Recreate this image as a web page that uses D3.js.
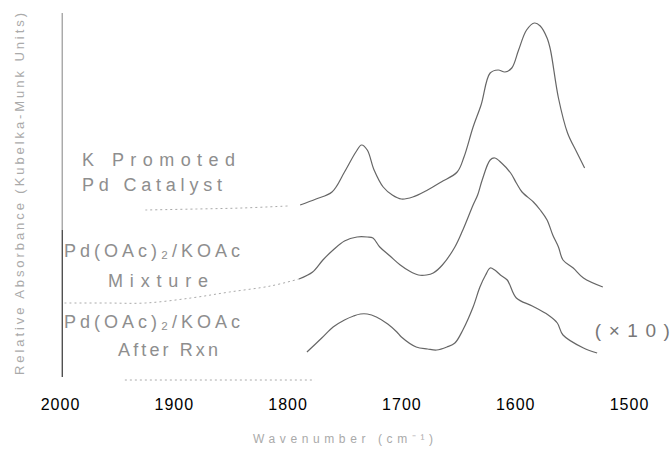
<!DOCTYPE html>
<html>
<head>
<meta charset="utf-8">
<script src="https://cdn.jsdelivr.net/npm/d3@7"></script>
<style>
  html, body { margin: 0; padding: 0; background: #fff; }
  svg { display: block; }
</style>
</head>
<body>
<svg id="chart" width="671" height="453"></svg>
<script>
// Wavenumber axis ticks (cm-1), plotted high to low as usual for IR
const wavenumberTicks = [2000, 1900, 1800, 1700, 1600, 1500];

// Sample names, two lines each (top, middle, bottom spectrum)
const sampleNames = [
  ["K Promoted", "Pd Catalyst"],
  ["Pd(OAc)₂/KOAc", "Mixture"],
  ["Pd(OAc)₂/KOAc", "After Rxn"]
];

// K-promoted Pd catalyst spectrum
const kPromotedWavenumber = [1925, 1880, 1840, 1800, 1789, 1775, 1761, 1750, 1740, 1735, 1730, 1724, 1716, 1708, 1700, 1690, 1677, 1665, 1651, 1645, 1637, 1630, 1622, 1615, 1609, 1603, 1597, 1590, 1583, 1578, 1572, 1569, 1562, 1554, 1546, 1539];
const kPromotedAbsorbance = [0.00, 0.01, 0.02, 0.04, 0.05, 0.11, 0.18, 0.38, 0.58, 0.65, 0.60, 0.40, 0.23, 0.15, 0.11, 0.13, 0.20, 0.28, 0.38, 0.53, 0.83, 1.05, 1.37, 1.40, 1.38, 1.42, 1.60, 1.80, 1.87, 1.84, 1.72, 1.60, 1.12, 0.77, 0.58, 0.42];

// Pd(OAc)2/KOAc physical mixture spectrum
const mixtureWavenumber = [1996, 1960, 1925, 1885, 1851, 1815, 1790, 1778, 1769, 1760, 1750, 1739, 1730, 1725, 1719, 1710, 1701, 1693, 1685, 1678, 1672, 1664, 1653, 1646, 1637, 1633, 1629, 1622, 1618, 1612, 1604, 1599, 1594, 1584, 1578, 1572, 1567, 1562, 1558, 1549, 1540, 1523];
const mixtureAbsorbance = [0.00, 0.00, 0.00, 0.05, 0.11, 0.17, 0.24, 0.31, 0.43, 0.53, 0.62, 0.66, 0.66, 0.65, 0.56, 0.47, 0.38, 0.32, 0.28, 0.28, 0.30, 0.38, 0.56, 0.73, 0.98, 1.08, 1.23, 1.43, 1.45, 1.40, 1.30, 1.20, 1.11, 1.01, 0.93, 0.83, 0.68, 0.56, 0.43, 0.35, 0.25, 0.16];

// Pd(OAc)2/KOAc after reaction, magnified ten times
const afterRxnWavenumber = [1800, 1783, 1770, 1760, 1750, 1742, 1736, 1730, 1722, 1712, 1704, 1700, 1687, 1677, 1669, 1660, 1653, 1646, 1637, 1631, 1626, 1622, 1618, 1613, 1607, 1599, 1585, 1571, 1563, 1558, 1540, 1528];
const afterRxnAbsorbance = [0.20, 0.28, 0.42, 0.53, 0.60, 0.64, 0.66, 0.66, 0.63, 0.56, 0.48, 0.43, 0.33, 0.31, 0.30, 0.33, 0.37, 0.50, 0.73, 0.93, 1.05, 1.12, 1.10, 1.05, 1.00, 0.82, 0.74, 0.65, 0.57, 0.45, 0.32, 0.27];

// Vertical stacking offsets (absorbance units) for the three traces
const spectrumOffsets = [1.70, 0.77, 0.00];
// Zero-line extent drawn under the bottom trace
const zeroLineRange = [1943, 1776];
const scaleNote = "(×10)";

const spectra = [
  { wn: kPromotedWavenumber, a: kPromotedAbsorbance },
  { wn: mixtureWavenumber, a: mixtureAbsorbance },
  { wn: afterRxnWavenumber, a: afterRxnAbsorbance }
];

const svg = d3.select("#chart");
const font = "'Liberation Sans', Arial, Helvetica, sans-serif";

const x = d3.scaleLinear().domain([2000, 1500]).range([60, 629]);
const y = d3.scaleLinear().domain([0, 3.67]).range([380, 13]);

// Left frame line
const axisX = x(1998);
svg.append("line")
  .attr("x1", axisX).attr("x2", axisX)
  .attr("y1", y(3.67)).attr("y2", 230)
  .attr("stroke", "#aaa").attr("stroke-width", 1.5);
svg.append("line")
  .attr("x1", axisX).attr("x2", axisX)
  .attr("y1", 230).attr("y2", 377)
  .attr("stroke", "#444").attr("stroke-width", 1.3);

// Bottom axis: tick labels only
const xAxis = svg.append("g")
  .attr("transform", "translate(0,396)")
  .call(d3.axisBottom(x).tickValues(wavenumberTicks).tickFormat(d3.format("d")).tickSize(0).tickPadding(3));
xAxis.select(".domain").remove();
xAxis.attr("font-family", font).attr("font-size", 16);
xAxis.selectAll("text").attr("fill", "#000").attr("letter-spacing", "1px");

// Dotted zero line of the bottom trace
svg.append("line")
  .attr("x1", x(zeroLineRange[0])).attr("x2", x(zeroLineRange[1]))
  .attr("y1", y(0)).attr("y2", y(0))
  .attr("stroke", "#aaa").attr("stroke-width", 1)
  .attr("stroke-dasharray", "2,3");

// Spectra: faint dotted tails at high wavenumber, solid elsewhere
const fadeAbove = 1790;
spectra.forEach((s, i) => {
  const off = spectrumOffsets[i];
  const pts = s.wn.map((w, k) => ({ wn: w, a: s.a[k] }));
  const line = d3.line()
    .x(d => x(d.wn))
    .y(d => y(d.a + off))
    .curve(d3.curveCatmullRom.alpha(0.5));
  const faint = pts.filter(d => d.wn >= fadeAbove);
  const main = pts.filter(d => d.wn <= fadeAbove);
  if (faint.length > 1) {
    svg.append("path").datum(faint)
      .attr("d", line).attr("fill", "none")
      .attr("stroke", "#aaa").attr("stroke-width", 1)
      .attr("stroke-dasharray", "2,3");
  }
  svg.append("path").datum(main.length > 1 ? main : pts)
    .attr("d", line).attr("fill", "none")
    .attr("stroke", "#666").attr("stroke-width", 1.2);
});

// Sample labels
const labelLayout = [
  [{ x: 82, y: 166, w: 153 }, { x: 82, y: 191, w: 140 }],
  [{ x: 64, y: 257, w: 176 }, { x: 108, y: 287, w: 100 }],
  [{ x: 64, y: 328, w: 176 }, { x: 118, y: 356, w: 100 }]
];
sampleNames.forEach((lines, i) => {
  lines.forEach((t, j) => {
    const p = labelLayout[i][j];
    svg.append("text")
      .attr("x", p.x).attr("y", p.y)
      .attr("textLength", p.w).attr("lengthAdjust", "spacing")
      .attr("font-family", font).attr("font-size", 18)
      .attr("fill", "#8e8e8e")
      .text(t);
  });
});

// Magnification note for the bottom trace
svg.append("text")
  .attr("x", x(1530)).attr("y", 337)
  .attr("textLength", 75).attr("lengthAdjust", "spacing")
  .attr("font-family", font).attr("font-size", 19)
  .attr("fill", "#777")
  .text(scaleNote);

// Axis titles
svg.append("text")
  .attr("transform", "translate(24,194) rotate(-90)")
  .attr("text-anchor", "middle")
  .attr("textLength", 362).attr("lengthAdjust", "spacing")
  .attr("font-family", font).attr("font-size", 13)
  .attr("fill", "#aaa")
  .text("Relative Absorbance (Kubelka-Munk Units)");

svg.append("text")
  .attr("x", 343).attr("y", 443)
  .attr("text-anchor", "middle")
  .attr("textLength", 180).attr("lengthAdjust", "spacing")
  .attr("font-family", font).attr("font-size", 12)
  .attr("fill", "#aaa")
  .text("Wavenumber (cm⁻¹)");
</script>
</body>
</html>
